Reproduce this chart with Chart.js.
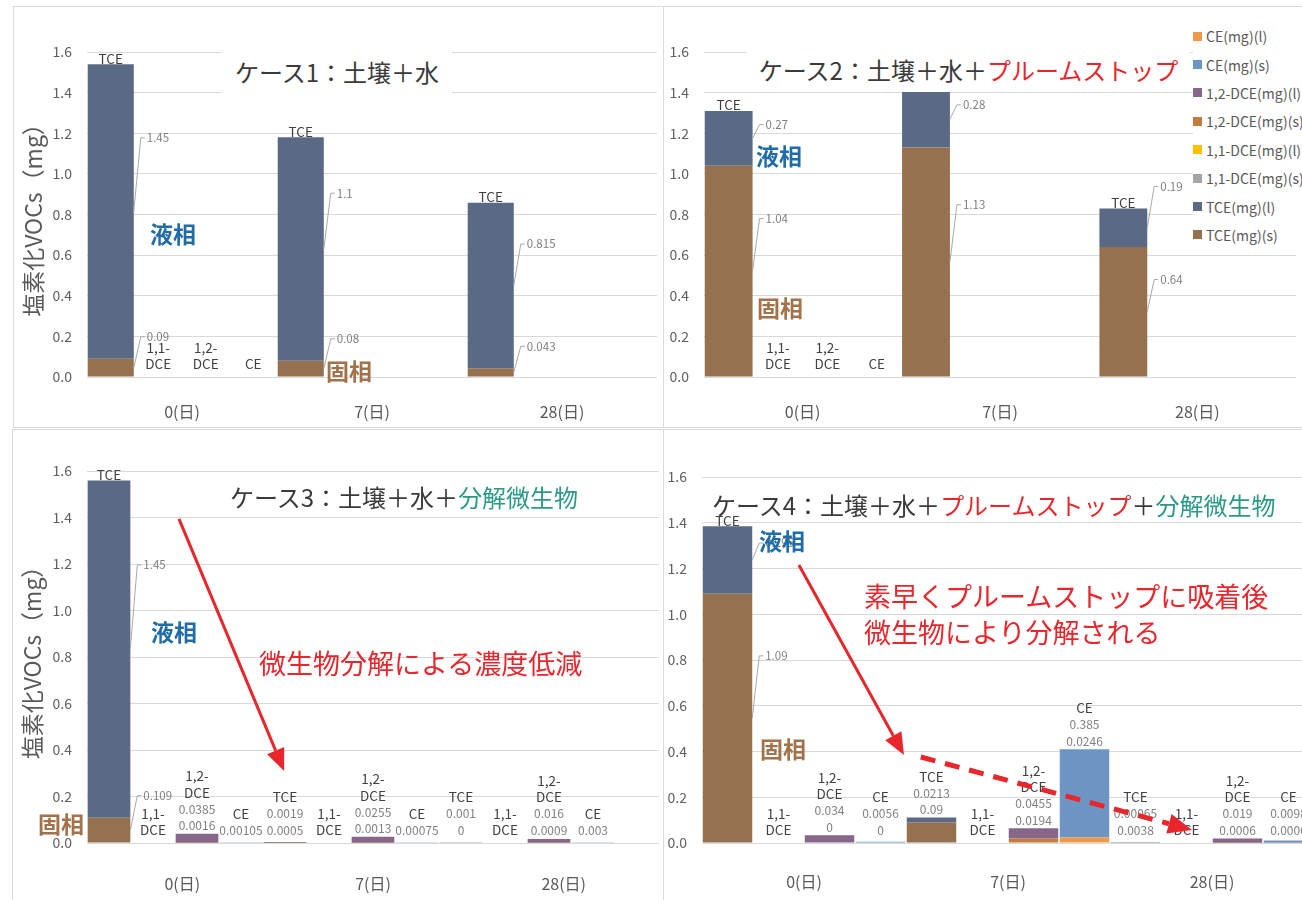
<!DOCTYPE html>
<html>
<head>
<meta charset="utf-8">
<script src="https://cdn.jsdelivr.net/npm/chart.js@4.4.1/dist/chart.umd.min.js"></script>
<style>
html, body { margin: 0; padding: 0; background: #fff; }
body { width: 1302px; height: 900px; position: relative; overflow: hidden;
       font-family: "Noto Sans CJK JP", "Noto Sans", sans-serif; }
.cv { position: absolute; }
.frame { position: absolute; border: 1px solid #dadada; box-sizing: border-box; pointer-events: none; }
.t { position: absolute; white-space: nowrap; line-height: 1; }
.title { font-size: 24px; color: #3a3a3a; }
.box { background: #fff; display: flex; align-items: center; justify-content: center; }
.liq { font-size: 23px; font-weight: bold; color: #1f6ca8; }
.sol { font-size: 23px; font-weight: bold; color: #a3714a; }
.red { color: #e8262c; }
.teal { color: #2a9a86; }
.note { font-size: 27px; color: #e8262c; }
#legend { position: absolute; left: 1193px; top: 22px; width: 120px; height: 230px; background: #fff; }
#legend div { height: 28.4px; display: flex; align-items: center; font-size: 14px; color: #595959; white-space: nowrap; }
#legend span { display: inline-block; width: 9px; height: 9px; margin-right: 4px; flex: none; }
</style>
</head>
<body>

<canvas id="c1" class="cv" width="650" height="421" style="left:13px;top:6px"></canvas>
<canvas id="c2" class="cv" width="637" height="421" style="left:665px;top:6px"></canvas>
<canvas id="c3" class="cv" width="651" height="470" style="left:12px;top:430px"></canvas>
<canvas id="c4" class="cv" width="667" height="470" style="left:663px;top:430px"></canvas>

<div class="frame" style="left:13px;top:6px;width:651px;height:422px"></div>
<div class="frame" style="left:663px;top:6px;width:660px;height:422px"></div>
<div class="frame" style="left:12px;top:429px;width:652px;height:480px"></div>
<div class="frame" style="left:663px;top:429px;width:660px;height:480px"></div>

<!-- タイトル -->
<div class="t title box" style="left:222px;top:50px;width:230px;height:44px">ケース1：土壌＋水</div>
<div class="t title box" style="left:747px;top:48px;width:443px;height:44px">ケース2：土壌＋水＋<span class="red">プルームストップ</span></div>
<div class="t title" style="left:230px;top:485px">ケース3：土壌＋水＋<span class="teal">分解微生物</span></div>
<div class="t title" style="left:712px;top:493px">ケース4：土壌＋水＋<span class="red">プルームストップ</span>＋<span class="teal">分解微生物</span></div>

<!-- 液相 / 固相 -->
<div class="t liq" style="left:150px;top:222px">液相</div>
<div class="t sol" style="left:326px;top:359px">固相</div>
<div class="t liq" style="left:756px;top:144px">液相</div>
<div class="t sol" style="left:757px;top:296px">固相</div>
<div class="t liq" style="left:151px;top:620px">液相</div>
<div class="t sol" style="left:38px;top:812px">固相</div>
<div class="t liq" style="left:759px;top:529px">液相</div>
<div class="t sol" style="left:760px;top:737px">固相</div>

<div class="t note" style="left:259px;top:649px">微生物分解による濃度低減</div>
<div class="t note" style="left:864px;top:578px;line-height:36px">素早くプルームストップに吸着後<br>微生物により分解される</div>

<div id="legend"></div>

<script>
/* ---------- データ ---------- */
const days = ['0(日)', '7(日)', '28(日)'];
const substances = ['TCE', '1,1-DCE', '1,2-DCE', 'CE'];

// 積み上げ順 (下から)
const seriesNames = ['TCE(mg)(s)', 'TCE(mg)(l)', '1,1-DCE(mg)(s)', '1,1-DCE(mg)(l)',
                     '1,2-DCE(mg)(s)', '1,2-DCE(mg)(l)', 'CE(mg)(l)', 'CE(mg)(s)'];
const seriesColors = ['#95714f', '#5a6a84', '#a5a5a5', '#ffc000',
                      '#c47b3e', '#86678a', '#ee9a4d', '#6c95c3'];
const legendOrder = ['CE(mg)(l)', 'CE(mg)(s)', '1,2-DCE(mg)(l)', '1,2-DCE(mg)(s)',
                     '1,1-DCE(mg)(l)', '1,1-DCE(mg)(s)', 'TCE(mg)(l)', 'TCE(mg)(s)'];

const none = [null, null, null];

// ケース1
const c1Names = ['TCE', '1,1-DCE', '1,2-DCE', 'CE', 'TCE', '', '', '', 'TCE', '', '', ''];
const c1TceS = [0.09, 0.08, 0.043];
const c1TceL = [1.45, 1.1, 0.815];

// ケース2
const c2Names = ['TCE', '1,1-DCE', '1,2-DCE', 'CE', 'TCE', '', '', '', 'TCE', '', '', ''];
const c2TceS = [1.04, 1.13, 0.64];
const c2TceL = [0.27, 0.28, 0.19];

// ケース3
const c3Names = ['TCE', '1,1-DCE', '1,2-DCE', 'CE', 'TCE', '1,1-DCE', '1,2-DCE', 'CE',
                 'TCE', '1,1-DCE', '1,2-DCE', 'CE', ''];
const c3TceS = [0.109, 0.0005, 0];
const c3TceL = [1.45, 0.0019, 0.001];
const c3Dce12S = [0.0016, 0.0013, 0.0009];
const c3Dce12L = [0.0385, 0.0255, 0.016];
const c3CeS = [0.00105, 0.00075, 0.003];

// ケース4
const c4Names = ['TCE', '1,1-DCE', '1,2-DCE', 'CE', 'TCE', '1,1-DCE', '1,2-DCE', 'CE',
                 'TCE', '1,1-DCE', '1,2-DCE', 'CE'];
const c4TceS = [1.09, 0.09, 0.0038];
const c4TceL = [0.295, 0.0213, 0.00065];
const c4Dce12S = [0, 0.0194, 0.0006];
const c4Dce12L = [0.034, 0.0455, 0.019];
const c4CeL = [0, 0.0246, 0.0006];
const c4CeS = [0.0056, 0.385, 0.0098];

const yTicks = [0, 0.2, 0.4, 0.6, 0.8, 1.0, 1.2, 1.4, 1.6];

/* ---------- 凡例 ---------- */
const legendEl = document.getElementById('legend');
legendOrder.forEach(n => {
    const c = seriesColors[seriesNames.indexOf(n)];
    legendEl.innerHTML += `<div><span style="background:${c}"></span>${n}</div>`;
});

/* ---------- ラベル描画 ---------- */
const FONT = '"Noto Sans CJK JP", "Noto Sans", sans-serif';

function splitName(n) {
    const i = n.indexOf('-');
    return i >= 0 && i < n.length - 1 ? [n.slice(0, i + 1), n.slice(i + 1)] : [n];
}

const barText = {
    id: 'barText',
    afterDatasetsDraw(chart) {
        const ctx = chart.ctx;
        const xs = chart.scales.x, ys = chart.scales.y;
        const zeroY = ys.getPixelForValue(0);
        const slotW = xs.width / chart.data.labels.length;
        ctx.save();
        chart.data.labels.forEach((name, i) => {
            const segs = [];
            chart.data.datasets.forEach((ds, di) => {
                const v = ds.data[i];
                if (v === null || v === undefined) return;
                segs.push({ v, el: chart.getDatasetMeta(di).data[i] });
            });
            if (!name && !segs.length) return;
            const cx = xs.getPixelForValue(i);
            const total = segs.reduce((a, s) => a + s.v, 0);
            const topY = ys.getPixelForValue(total);
            const half = slotW * 0.485;
            const vals = segs.slice().reverse();

            if (total > 0.5) {
                // 大きい棒: 名前は上、値は右に引出線付き
                ctx.font = '13.5px ' + FONT;
                ctx.fillStyle = '#404040';
                ctx.textAlign = 'center';
                ctx.textBaseline = 'bottom';
                ctx.fillText(name, cx, topY + 1);
                ctx.font = '11.5px ' + FONT;
                ctx.textAlign = 'left';
                ctx.textBaseline = 'middle';
                vals.forEach(s => {
                    const sTop = Math.min(s.el.y, s.el.base), sBot = Math.max(s.el.y, s.el.base);
                    const h = sBot - sTop, mid = (sTop + sBot) / 2;
                    const ly = h < 40 ? sTop - 22 : sBot - 0.75 * h;
                    const lx = cx + half + 13;
                    ctx.strokeStyle = '#a8a8a8';
                    ctx.lineWidth = 1;
                    ctx.beginPath();
                    ctx.moveTo(lx - 2, ly);
                    ctx.lineTo(lx - 6, ly);
                    ctx.lineTo(cx + half, mid);
                    ctx.stroke();
                    ctx.fillStyle = '#7f7f7f';
                    ctx.fillText(String(s.v), lx, ly);
                });
            } else {
                // 小さい棒: 名前と値を上に積む
                const lines = (name ? splitName(name).map(t => ({ t, n: true })) : [])
                    .concat(vals.map(s => ({ t: String(s.v), n: false })));
                let y = Math.min(zeroY - 13, topY - 8);
                ctx.textAlign = 'center';
                ctx.textBaseline = 'middle';
                for (let k = lines.length - 1; k >= 0; k--) {
                    const ln = lines[k];
                    ctx.font = (ln.n ? '13.5px ' : '12px ') + FONT;
                    ctx.fillStyle = ln.n ? '#404040' : '#808080';
                    ctx.fillText(ln.t, cx, y);
                    y -= 16.5;
                }
            }
        });
        ctx.restore();
    }
};

/* ---------- 矢印 ---------- */
const arrows = {
    id: 'arrows',
    afterDraw(chart, args, opts) {
        const list = opts.list || [];
        if (!list.length) return;
        const ctx = chart.ctx;
        const xs = chart.scales.x, ys = chart.scales.y;
        ctx.save();
        list.forEach(a => {
            const x1 = xs.getPixelForValue(a.from[0]), y1 = ys.getPixelForValue(a.from[1]);
            const x2 = xs.getPixelForValue(a.to[0]), y2 = ys.getPixelForValue(a.to[1]);
            const ang = Math.atan2(y2 - y1, x2 - x1);
            const hl = a.head, hw = a.head * 0.42;
            const bx = x2 - Math.cos(ang) * hl, by = y2 - Math.sin(ang) * hl;
            ctx.strokeStyle = '#e8262c';
            ctx.fillStyle = '#e8262c';
            ctx.lineWidth = a.width;
            ctx.setLineDash(a.dash ? [15, 10] : []);
            ctx.beginPath();
            ctx.moveTo(x1, y1);
            ctx.lineTo(bx, by);
            ctx.stroke();
            ctx.setLineDash([]);
            ctx.beginPath();
            ctx.moveTo(x2, y2);
            ctx.lineTo(bx + Math.sin(ang) * hw, by - Math.cos(ang) * hw);
            ctx.lineTo(bx - Math.sin(ang) * hw, by + Math.cos(ang) * hw);
            ctx.closePath();
            ctx.fill();
        });
        ctx.restore();
    }
};

/* ---------- グラフ生成 ---------- */
function toSlots(perDay, subst, n) {
    const out = new Array(n).fill(null);
    perDay.forEach((v, d) => { out[d * substances.length + subst] = v; });
    return out;
}

const seriesSubst = [0, 0, 1, 1, 2, 2, 3, 3];

function makeChart(id, names, series, lay) {
    const datasets = seriesNames.map((n, k) => ({
        label: n,
        data: toSlots(series[k], seriesSubst[k], names.length),
        backgroundColor: seriesColors[k],
        barPercentage: 0.97,
        categoryPercentage: 1,
        stack: 's'
    }));
    return new Chart(document.getElementById(id), {
        type: 'bar',
        data: { labels: names, datasets },
        options: {
            responsive: false,
            animation: false,
            layout: { padding: { top: lay.top, right: lay.right, bottom: 0, left: 0 } },
            plugins: {
                legend: { display: false },
                tooltip: { enabled: false },
                arrows: { list: lay.arrows || [] }
            },
            scales: {
                x: { stacked: true, display: false },
                x2: {
                    type: 'category', labels: days, offset: true, position: 'bottom',
                    grid: { display: false }, border: { display: false },
                    ticks: { font: { size: 16, family: FONT }, color: '#595959', padding: lay.dayPad },
                    afterFit: s => { s.height = lay.bottom; }
                },
                y: {
                    stacked: true, min: 0, max: 1.6,
                    afterBuildTicks: s => { s.ticks = yTicks.map(v => ({ value: v })); },
                    ticks: { callback: v => v.toFixed(1), font: { size: 14, family: FONT }, color: '#606060', padding: 15 },
                    grid: { color: '#d9d9d9', drawTicks: false },
                    border: { display: false },
                    title: {
                        display: !!lay.yTitle, text: '塩素化VOCs（mg）', color: '#595959',
                        font: { size: 23, family: FONT }, padding: { top: 6, bottom: 0 }
                    },
                    afterFit: s => { s.width = lay.left; }
                }
            }
        },
        plugins: [barText, arrows]
    });
}

makeChart('c1', c1Names, [c1TceS, c1TceL, none, none, none, none, none, none],
    { left: 74, right: 6, top: 46, bottom: 50, dayPad: 17, yTitle: true });

makeChart('c2', c2Names, [c2TceS, c2TceL, none, none, none, none, none, none],
    { left: 39, right: 6, top: 46, bottom: 50, dayPad: 17 });

makeChart('c3', c3Names, [c3TceS, c3TceL, none, none, c3Dce12S, c3Dce12L, none, c3CeS],
    { left: 75, right: 4, top: 41, bottom: 57, dayPad: 23, yTitle: true,
      arrows: [{ from: [1.59, 1.394], to: [3.98, 0.31], width: 3, head: 22, dash: false }] });

makeChart('c4', c4Names, [c4TceS, c4TceL, none, none, c4Dce12S, c4Dce12L, c4CeL, c4CeS],
    { left: 39, right: 16, top: 47, bottom: 57, dayPad: 21,
      arrows: [{ from: [1.40, 1.215], to: [3.46, 0.385], width: 3, head: 22, dash: false },
               { from: [3.79, 0.376], to: [9.11, 0.057], width: 5, head: 24, dash: true }] });
</script>
</body>
</html>
